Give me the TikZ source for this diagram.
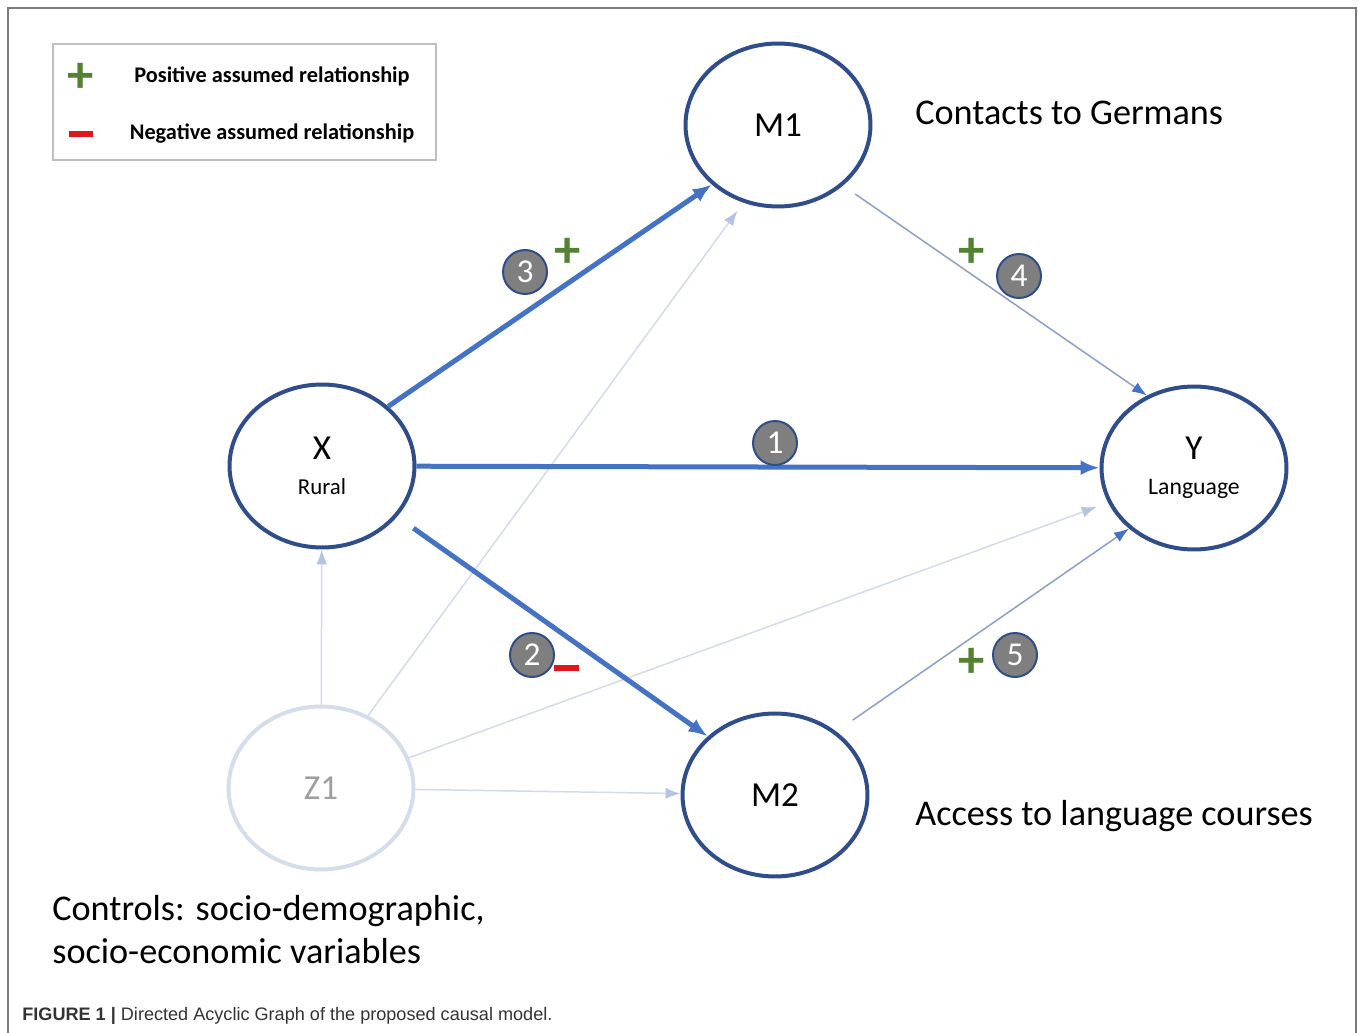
\documentclass[tikz,border=0pt]{standalone}
\usepackage{fontspec}
\setmainfont{Carlito}
\newfontfamily\capfont{Liberation Sans}
\usetikzlibrary{shapes,arrows.meta,positioning}
\definecolor{navy}{HTML}{2F4D8A}
\definecolor{strongblue}{HTML}{4472C4}
\definecolor{weakline}{HTML}{8E9FC4}
\definecolor{faintline}{HTML}{D3DBEA}
\definecolor{fainttip}{HTML}{B4C5E4}
\definecolor{faintborder}{HTML}{D5DDEC}
\definecolor{badgegray}{HTML}{7F7F7F}
\definecolor{plusgreen}{HTML}{548235}
\definecolor{minusred}{HTML}{E0161C}
\definecolor{legendgray}{HTML}{BFBFBF}
\definecolor{framegray}{HTML}{7A7A7A}
\definecolor{capgray}{HTML}{333333}
\tikzset{
    state/.style ={ellipse, draw=navy, line width=0.08cm, minimum width=3.7cm,
        minimum height=3.26cm, inner sep=0pt, align=center,
        font=\fontsize{20}{21}\selectfont},
    faintstate/.style ={state, draw=faintborder, text=badgegray!75},
    strong/.style={-{Latex[length=0.38cm,width=0.3cm]}, draw=strongblue, line width=0.1cm},
    weak/.style={-{Latex[length=0.3cm,width=0.22cm,color=strongblue]}, draw=weakline, line width=0.03cm},
    faint/.style={-{Latex[length=0.3cm,width=0.22cm,color=fainttip]}, draw=faintline, line width=0.03cm},
    badge/.style={circle, fill=badgegray, draw=navy, line width=0.04cm, minimum size=0.88cm,
        inner sep=0pt, text=white, font=\fontsize{19}{19}\selectfont},
    plussign/.style={inner sep=0pt, text=plusgreen, font=\fontsize{30}{30}\selectfont\bfseries},
    minussign/.style={inner sep=0pt, text=minusred},
    side/.style={anchor=west, inner sep=0pt, font=\fontsize{20.6}{24.4}\selectfont},
    legtext/.style={inner sep=0pt, font=\fontsize{12.7}{14}\selectfont\bfseries}
}

\begin{document}
\begin{tikzpicture}[x=0.02cm, y=-0.02cm]
    \useasboundingbox (0,0) rectangle (1358,1033);
    % frame
    \draw[framegray, line width=0.04cm] (8,1033) -- (8,8) -- (1356,8) -- (1356,1033);

    % Legend
    \node[draw=legendgray, line width=0.04cm, minimum width=7.66cm, minimum height=2.32cm] (legend) at (244.5,102) {};
    \node[plussign] (pos) at (81,78) {+};
    \node[minussign] (neg) at (81,134) {\rule{0.5cm}{0.12cm}};
    \node[legtext] (postext) at (272,76) {Positive assumed relationship};
    \node[legtext] (negtext) at (272,134) {Negative assumed relationship};

    %%Nodes
    \node[state] (x) at (322,466) {X\\[-1pt]{\fontsize{13}{15}\selectfont Rural}};
    \node[state] (m1) at (778,125) {M1};
    \node[state] (y) at (1194,468) {Y\\[-1pt]{\fontsize{13.5}{15}\selectfont Language}};
    \node[state] (m2) at (775,795) {M2};
    \node[faintstate] (z1) at (321,788) {Z1};

    %%Texts
    \node[side] (contacts) at (915,113) {Contacts to Germans};
    \node[side] (access) at (915,816) {Access to language courses};
    \node[side, anchor=north west, align=left] (controls) at (52,895) {Controls: socio-demographic,\\socio-economic variables};

    % Directed edge
    \path (z1) edge[faint] (x);
    \path (z1.57) edge[faint, shorten >=0.2cm] (m1.246);
    \path (z1.19) edge[faint, shorten >=0.24cm] (y.202);
    \path (z1) edge[faint] (m2);

    \path (m1.-43) edge[weak, shorten <=0.3cm] (y.123);
    \path (m2.46) edge[weak, shorten <=0.4cm] (y.223);

    \path (x) edge[strong] (y);
    \path (x.42) edge[strong] (m1.222);
    \path (x.-34) edge[strong, shorten <=0.4cm] (m2.139);

    %%Badges and signs
    \node[badge] (b1) at (775,443) {1};
    \node[badge] (b2) at (532,655) {2};
    \node[badge] (b3) at (525,272) {3};
    \node[badge] (b4) at (1019,276) {4};
    \node[badge] (b5) at (1015,655) {5};
    \node[plussign] (p3) at (568,253) {+};
    \node[plussign] (p4) at (972,253) {+};
    \node[plussign] (p5) at (972,663) {+};
    \node[minussign] (n2) at (566,668) {\rule{0.5cm}{0.12cm}};

    % caption
    \node[anchor=west, inner sep=0pt, text=capgray, font=\capfont\fontsize{10.3}{12}\selectfont] (caption) at (22,1016)
        {\textbf{FIGURE 1 |} Directed Acyclic Graph of the proposed causal model.};
\end{tikzpicture}
\end{document}
